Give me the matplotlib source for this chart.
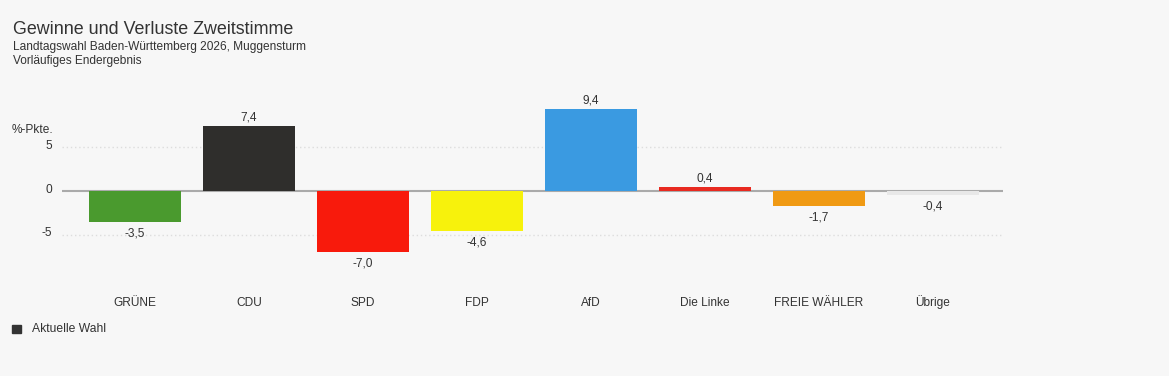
import numpy as np
import matplotlib.pyplot as plt
from matplotlib.patches import Rectangle

plt.rcParams['font.family'] = ['Liberation Sans', 'DejaVu Sans']

# Daten
parteien = ["GRÜNE", "CDU", "SPD", "FDP", "AfD", "Die Linke", "FREIE WÄHLER", "Übrige"]
diff = [-3.5, 7.4, -7.0, -4.6, 9.4, 0.4, -1.7, -0.4]
farben = ["#4a9a2e", "#2f2e2c", "#f81a0c", "#f7f20c", "#3a9ae1", "#e82a20", "#f09a14", "#e8e8e8"]
yticks = [-5, 0, 5]

bg = "#f7f7f7"
txt = "#333333"
W, H = 1169, 376
fig = plt.figure(figsize=(W / 100, H / 100), dpi=100, facecolor=bg)

# axes in pixel coordinates: x 62..1003, zero line at y=191
ymin, ymax = -10, 12
px_per = 8.77
y0 = 191
ax_top = y0 - ymax * px_per
ax_bot = y0 - ymin * px_per
ax = fig.add_axes([62 / W, 1 - ax_bot / H, (1003 - 62) / W, (ax_bot - ax_top) / H])
ax.set_facecolor(bg)

x = np.arange(len(parteien))
ax.bar(x, diff, width=0.8, color=farben, zorder=3)
ax.set_xlim((62 - 135) / 114, (1003 - 135) / 114)
ax.set_ylim(ymin, ymax)

for xi, v in zip(x, diff):
    lab = f"{v:.1f}".replace(".", ",")
    if v >= 0:
        ax.annotate(lab, (xi, v), xytext=(0, 4), textcoords="offset points",
                    ha="center", va="baseline", fontsize=8.6, color=txt)
    else:
        ax.annotate(lab, (xi, v), xytext=(0, -4), textcoords="offset points",
                    ha="center", va="top", fontsize=8.6, color=txt)

# grid lines
for t in yticks:
    if t == 0:
        ax.axhline(0, color="#aaaaaa", lw=1.5, zorder=2)
    else:
        ax.axhline(t, color="#dddddd", lw=1, ls=(0, (1, 2)), zorder=1)

# y labels
ax.set_yticks([])
ax.set_xticks([])
ytr = ax.get_yaxis_transform()
for t in yticks:
    ax.annotate(str(t), (-10 / 941, t), xycoords=ytr, xytext=(0, 1),
                textcoords="offset points", ha="right", va="center",
                fontsize=8.6, color=txt, annotation_clip=False)

# category labels with shared baseline
xtr = ax.get_xaxis_transform()
base = (ax_bot - 306) / (ax_bot - ax_top)
for xi, p in zip(x, parteien):
    ax.text(xi, base, p, transform=xtr, ha="center", va="baseline",
            fontsize=8.6, color=txt)

for s in ax.spines.values():
    s.set_visible(False)

fig.text(12 / W, 1 - 130 / H, "%-Pkte.", fontsize=8.6, color=txt, va="center")

# titles
fig.text(13 / W, 1 - 30 / H, "Gewinne und Verluste Zweitstimme", fontsize=12.9,
         color=txt, va="center")
fig.text(13 / W, 1 - 47 / H, "Landtagswahl Baden-Württemberg 2026, Muggensturm",
         fontsize=8.6, color=txt, va="center")
fig.text(13 / W, 1 - 61 / H, "Vorläufiges Endergebnis", fontsize=8.6,
         color=txt, va="center")

# legend
fig.patches.append(Rectangle((12 / W, 1 - 333 / H), 9 / W, 8 / H,
                             transform=fig.transFigure, color=txt))
fig.text(32 / W, 1 - 329 / H, "Aktuelle Wahl", fontsize=8.7, color=txt, va="center")

fig.savefig("out.png", dpi=100, facecolor=bg)
